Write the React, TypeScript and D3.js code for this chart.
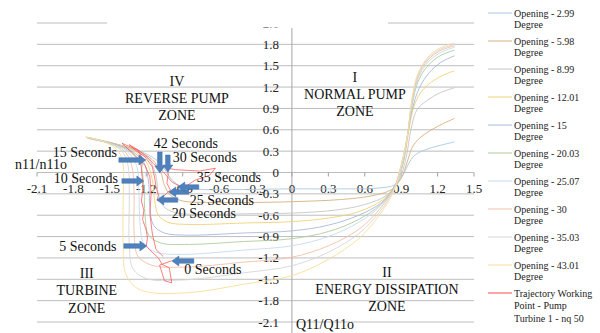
import React from 'react';
import * as d3 from 'd3';

type P = [number, number];

const xTicks = [-2.1, -1.8, -1.5, -1.2, -0.9, -0.6, -0.3, 0, 0.3, 0.6, 0.9, 1.2, 1.5];
const yTicks = [-2.1, -1.8, -1.5, -1.2, -0.9, -0.6, -0.3, 0, 0.3, 0.6, 0.9, 1.2, 1.5, 1.8, 2.1];

const openings = ['2.99', '5.98', '8.99', '12.01', '15', '20.03', '25.07', '30', '35.03', '43.01'];
const openingColors = ['#a9c8e4', '#d8b07e', '#c6c6c6', '#f0d078', '#a8b9dc', '#b0cc9c', '#c4dbef', '#f3c0a8', '#d6d6d6', '#f7de98'];

const op2_99: P[] = [[-1.66,0.47],[-1.45,0.40],[-1.25,0.30],[-1.12,0.18],[-1.05,0.05],[-1.0,-0.08],[-0.93,-0.18],[-0.8,-0.23],[-0.5,-0.24],[0,-0.23],[0.4,-0.23],[0.7,-0.22],[0.85,-0.17],[0.92,-0.02],[0.96,0.12],[1.01,0.24],[1.1,0.32],[1.22,0.38],[1.34,0.43]];
const op5_98: P[] = [[-1.67,0.48],[-1.45,0.40],[-1.27,0.30],[-1.15,0.18],[-1.08,0.0],[-1.05,-0.18],[-1.0,-0.32],[-0.9,-0.40],[-0.7,-0.42],[-0.3,-0.42],[0,-0.41],[0.4,-0.38],[0.65,-0.33],[0.82,-0.24],[0.9,-0.08],[0.95,0.15],[0.99,0.35],[1.05,0.48],[1.15,0.6],[1.25,0.69],[1.34,0.76]];
const op8_99: P[] = [[-1.68,0.48],[-1.46,0.40],[-1.28,0.30],[-1.17,0.16],[-1.12,-0.05],[-1.10,-0.3],[-1.06,-0.47],[-0.97,-0.56],[-0.8,-0.59],[-0.4,-0.58],[0,-0.57],[0.35,-0.53],[0.6,-0.45],[0.78,-0.32],[0.88,-0.12],[0.94,0.2],[0.98,0.6],[1.03,0.88],[1.12,1.02],[1.22,1.12],[1.34,1.19]];
const op12_01: P[] = [[-1.68,0.49],[-1.47,0.41],[-1.3,0.3],[-1.2,0.15],[-1.15,-0.1],[-1.13,-0.4],[-1.10,-0.6],[-1.02,-0.7],[-0.85,-0.73],[-0.4,-0.71],[0,-0.69],[0.3,-0.64],[0.55,-0.55],[0.75,-0.38],[0.86,-0.15],[0.92,0.15],[0.96,0.55],[1.0,0.9],[1.06,1.12],[1.15,1.27],[1.25,1.37],[1.34,1.43]];
const op15: P[] = [[-1.68,0.49],[-1.48,0.41],[-1.32,0.3],[-1.22,0.14],[-1.18,-0.15],[-1.17,-0.5],[-1.14,-0.74],[-1.05,-0.85],[-0.85,-0.88],[-0.4,-0.85],[0,-0.82],[0.3,-0.74],[0.55,-0.6],[0.74,-0.42],[0.85,-0.18],[0.91,0.1],[0.95,0.5],[0.99,0.88],[1.05,1.19],[1.13,1.4],[1.23,1.55],[1.34,1.64]];
const op20_03: P[] = [[-1.69,0.49],[-1.49,0.41],[-1.34,0.3],[-1.25,0.12],[-1.22,-0.2],[-1.21,-0.6],[-1.18,-0.88],[-1.08,-0.99],[-0.85,-1.01],[-0.4,-0.97],[0,-0.93],[0.3,-0.83],[0.55,-0.66],[0.73,-0.45],[0.85,-0.2],[0.91,0.1],[0.95,0.5],[0.99,0.95],[1.04,1.28],[1.12,1.5],[1.22,1.64],[1.34,1.72]];
const op25_07: P[] = [[-1.69,0.49],[-1.5,0.41],[-1.36,0.3],[-1.28,0.1],[-1.26,-0.3],[-1.25,-0.75],[-1.22,-1.0],[-1.12,-1.12],[-0.9,-1.15],[-0.4,-1.09],[0,-1.03],[0.3,-0.9],[0.55,-0.7],[0.73,-0.47],[0.85,-0.2],[0.91,0.1],[0.95,0.5],[0.99,0.98],[1.04,1.32],[1.12,1.55],[1.22,1.68],[1.34,1.76]];
const op30: P[] = [[-1.69,0.49],[-1.51,0.41],[-1.38,0.3],[-1.32,0.1],[-1.30,-0.3],[-1.30,-0.85],[-1.27,-1.17],[-1.16,-1.3],[-0.9,-1.33],[-0.4,-1.26],[0,-1.19],[0.3,-1.03],[0.55,-0.8],[0.72,-0.52],[0.84,-0.22],[0.9,0.1],[0.95,0.5],[0.99,1.0],[1.04,1.35],[1.12,1.58],[1.22,1.71],[1.34,1.78]];
const op35_03: P[] = [[-1.7,0.5],[-1.52,0.42],[-1.4,0.3],[-1.35,0.1],[-1.34,-0.3],[-1.34,-1.0],[-1.31,-1.35],[-1.2,-1.49],[-0.9,-1.51],[-0.4,-1.41],[0,-1.31],[0.3,-1.12],[0.55,-0.86],[0.72,-0.56],[0.84,-0.24],[0.9,0.1],[0.95,0.5],[0.99,1.02],[1.04,1.38],[1.12,1.6],[1.22,1.73],[1.34,1.80]];
const op43_01: P[] = [[-1.7,0.5],[-1.53,0.42],[-1.43,0.3],[-1.39,0.1],[-1.39,-0.3],[-1.39,-1.0],[-1.37,-1.42],[-1.28,-1.62],[-1.15,-1.69],[-0.8,-1.68],[-0.4,-1.57],[0,-1.45],[0.3,-1.22],[0.55,-0.93],[0.72,-0.6],[0.84,-0.26],[0.9,0.1],[0.95,0.5],[0.99,1.05],[1.04,1.4],[1.12,1.62],[1.22,1.75],[1.34,1.82]];

const openingSeries: P[][] = [op2_99, op5_98, op8_99, op12_01, op15, op20_03, op25_07, op30, op35_03, op43_01];

const trajectory: P[] = [[-0.99,-1.24],[-1.09,-1.30],[-1.05,-1.52],[-0.99,-1.55],[-1.01,-1.34],[-1.07,-1.29],[-1.10,-1.20],[-1.17,-1.09],[-1.20,-1.03],[-1.19,-0.92],[-1.20,-0.81],[-1.23,-0.66],[-1.22,-0.53],[-1.24,-0.40],[-1.23,-0.25],[-1.23,-0.12],[-1.24,0.04],[-1.23,0.19],[-1.27,0.32],[-1.34,0.39],[-1.28,0.30],[-1.21,0.22],[-1.15,0.08],[-1.13,-0.08],[-1.12,-0.20],[-1.10,-0.32],[-1.11,-0.39],[-1.06,-0.34],[-1.02,-0.27],[-1.0,-0.25],[-1.03,-0.15],[-1.02,-0.04],[-1.02,0.06],[-0.96,0.04],[-0.86,0.03],[-0.76,0.02],[-0.63,0.06],[-0.68,-0.04],[-0.80,-0.11],[-0.88,-0.2],[-0.92,-0.2],[-0.99,-0.13],[-1.06,0.01],[-1.09,0.06],[-1.14,0.12],[-1.18,0.20],[-1.26,0.31],[-1.40,0.41],[-1.31,0.27],[-1.21,0.10],[-1.17,-0.06],[-1.16,-0.30],[-1.17,-0.58],[-1.15,-0.86],[-1.12,-1.08],[-1.06,-1.18]];

const arrowTails: P[] = [[-1.426,0.176],[-1.401,-0.119],[-1.385,-1.032],[-0.808,-1.243],[-0.940,-0.386],[-0.849,-0.274],[-0.767,-0.204],[-1.088,0.288],[-1.022,0.246]];
const arrowTips: P[] = [[-1.203,0.176],[-1.220,-0.119],[-1.195,-1.032],[-0.989,-1.243],[-1.113,-0.386],[-1.014,-0.274],[-0.940,-0.204],[-1.088,-0.007],[-1.022,0.007]];
const timeLabels = ['15 Seconds', '10 Seconds', '5 Seconds', '0 Seconds', '20 Seconds', '25 Seconds', '35 Seconds', '42 Seconds', '30 Seconds'];
const timeLabelPos: P[] = [[-1.706,0.274],[-1.698,-0.091],[-1.681,-1.046],[-0.651,-1.369],[-0.725,-0.569],[-0.577,-0.400],[-0.519,-0.077],[-0.874,0.414],[-0.717,0.204]];

const zoneLabels = [['IV', 'REVERSE PUMP', 'ZONE'], ['I', 'NORMAL PUMP', 'ZONE'], ['III', 'TURBINE', 'ZONE'], ['II', 'ENERGY DISSIPATION', 'ZONE']];
const zonePos: P[] = [[-0.947, 1.28], [0.519, 1.34], [-1.69, -1.42], [0.783, -1.40]];

const serif = 'Liberation Serif';

export default function App() {
  const W = 600, H = 333;
  const x = d3.scaleLinear().domain([-2.1, 1.5]).range([37, 474]);
  const y = d3.scaleLinear().domain([-2.1, 2.1]).range([322, 23]);
  const line = d3.line<P>().x(d => x(d[0])).y(d => y(d[1])).curve(d3.curveCatmullRom.alpha(0.5));
  const jag = d3.line<P>().x(d => x(d[0])).y(d => y(d[1])).curve(d3.curveLinear);
  const x0 = x(0), y0 = y(0);
  const ts = { fontFamily: serif };

  const arrowPoly = (t: P, h: P) => {
    const x1 = x(t[0]), y1 = y(t[1]), x2 = x(h[0]), y2 = y(h[1]);
    const dx = x2 - x1, dy = y2 - y1, L = Math.hypot(dx, dy);
    const ux = dx / L, uy = dy / L, px = -uy, py = ux;
    const sw = 2.3, hw = 5, hl = 7;
    const bx = x2 - ux * hl, by = y2 - uy * hl;
    const pts = [
      [x1 + px * sw, y1 + py * sw], [bx + px * sw, by + py * sw], [bx + px * hw, by + py * hw],
      [x2, y2], [bx - px * hw, by - py * hw], [bx - px * sw, by - py * sw], [x1 - px * sw, y1 - py * sw],
    ];
    return pts.map(p => p.join(',')).join(' ');
  };

  return (
    <svg width={W} height={H} style={{ position: 'absolute', left: 0, top: 0, background: '#fff' }}>
      <rect width={W} height={H} fill="#fff" />
      {yTicks.map(v => (
        <line key={'g' + v} x1={x(-2.1)} x2={x(1.5)} y1={y(v)} y2={y(v)} stroke="#bdbdbd" strokeWidth={1} />
      ))}
      {xTicks.map(v => (
        <line key={'t' + v} x1={x(v)} x2={x(v)} y1={y0} y2={y0 + 4} stroke="#a0a0a0" strokeWidth={1} />
      ))}
      {yTicks.map(v => (
        <text key={'yl' + v} style={ts} x={x0 - 13} y={y(v)} textAnchor="end" dominantBaseline="central" fontSize={13} fill="#222">{v === 0 ? '0' : v.toFixed(1)}</text>
      ))}
      <rect x={107} y={0} width={281} height={27.5} fill="#fff" />
      <line x1={x0} x2={x0} y1={28} y2={333} stroke="#a6a6a6" strokeWidth={1} />
      {xTicks.map(v => (
        <text key={'xl' + v} style={ts} x={x(v)} y={y0 + 16} textAnchor="middle" dominantBaseline="central" fontSize={13} fill="#222">{v === 0 ? '0' : v.toFixed(1)}</text>
      ))}
      {openingSeries.map((s, i) => (
        <path key={'s' + i} d={line(s) || ''} fill="none" stroke={openingColors[i]} strokeWidth={0.9} />
      ))}
      <path d={jag(trajectory) || ''} fill="none" stroke="#ff4848" strokeWidth={0.7} />
      {arrowTails.map((t, i) => (
        <polygon key={'a' + i} points={arrowPoly(t, arrowTips[i])} fill="#4f81bd" stroke="#3f6fa8" strokeWidth={0.5} />
      ))}
      {timeLabels.map((s, i) => (
        <text key={'tl' + i} style={ts} x={x(timeLabelPos[i][0])} y={y(timeLabelPos[i][1])} textAnchor="middle" dominantBaseline="central" fontSize={14} fill="#111">{s}</text>
      ))}
      {zoneLabels.map((lines, i) => (
        <g key={'z' + i}>
          {lines.map((s, j) => (
            <text key={j} style={ts} x={x(zonePos[i][0])} y={y(zonePos[i][1]) + j * 17.3} textAnchor="middle" dominantBaseline="central" fontSize={14} fill="#111">{s}</text>
          ))}
        </g>
      ))}
      <text style={ts} x={41} y={164} textAnchor="middle" dominantBaseline="central" fontSize={14} fill="#111">n11/n11o</text>
      <text style={ts} x={296} y={324} textAnchor="start" dominantBaseline="central" fontSize={14} fill="#111">Q11/Q11o</text>
      {openings.map((o, i) => (
        <g key={'lg' + i} transform={`translate(0,${13 + i * 28})`}>
          <line x1={488} x2={512} y1={0} y2={0} stroke={openingColors[i]} strokeWidth={1} />
          <text style={ts} x={514} y={0} dominantBaseline="central" fontSize={10} fill="#222">{'Opening - ' + o}</text>
          <text style={ts} x={514} y={11.5} dominantBaseline="central" fontSize={10} fill="#222">Degree</text>
        </g>
      ))}
      <g transform={`translate(0,${13 + 10 * 28})`}>
        <line x1={488} x2={512} y1={0} y2={0} stroke="#ff4848" strokeWidth={1} />
        <text style={ts} x={514} y={0} dominantBaseline="central" fontSize={10} fill="#222">Trajectory Working</text>
        <text style={ts} x={514} y={12.5} dominantBaseline="central" fontSize={10} fill="#222">Point - Pump</text>
        <text style={ts} x={514} y={25} dominantBaseline="central" fontSize={10} fill="#222">Turbine 1 - nq 50</text>
      </g>
    </svg>
  );
}
